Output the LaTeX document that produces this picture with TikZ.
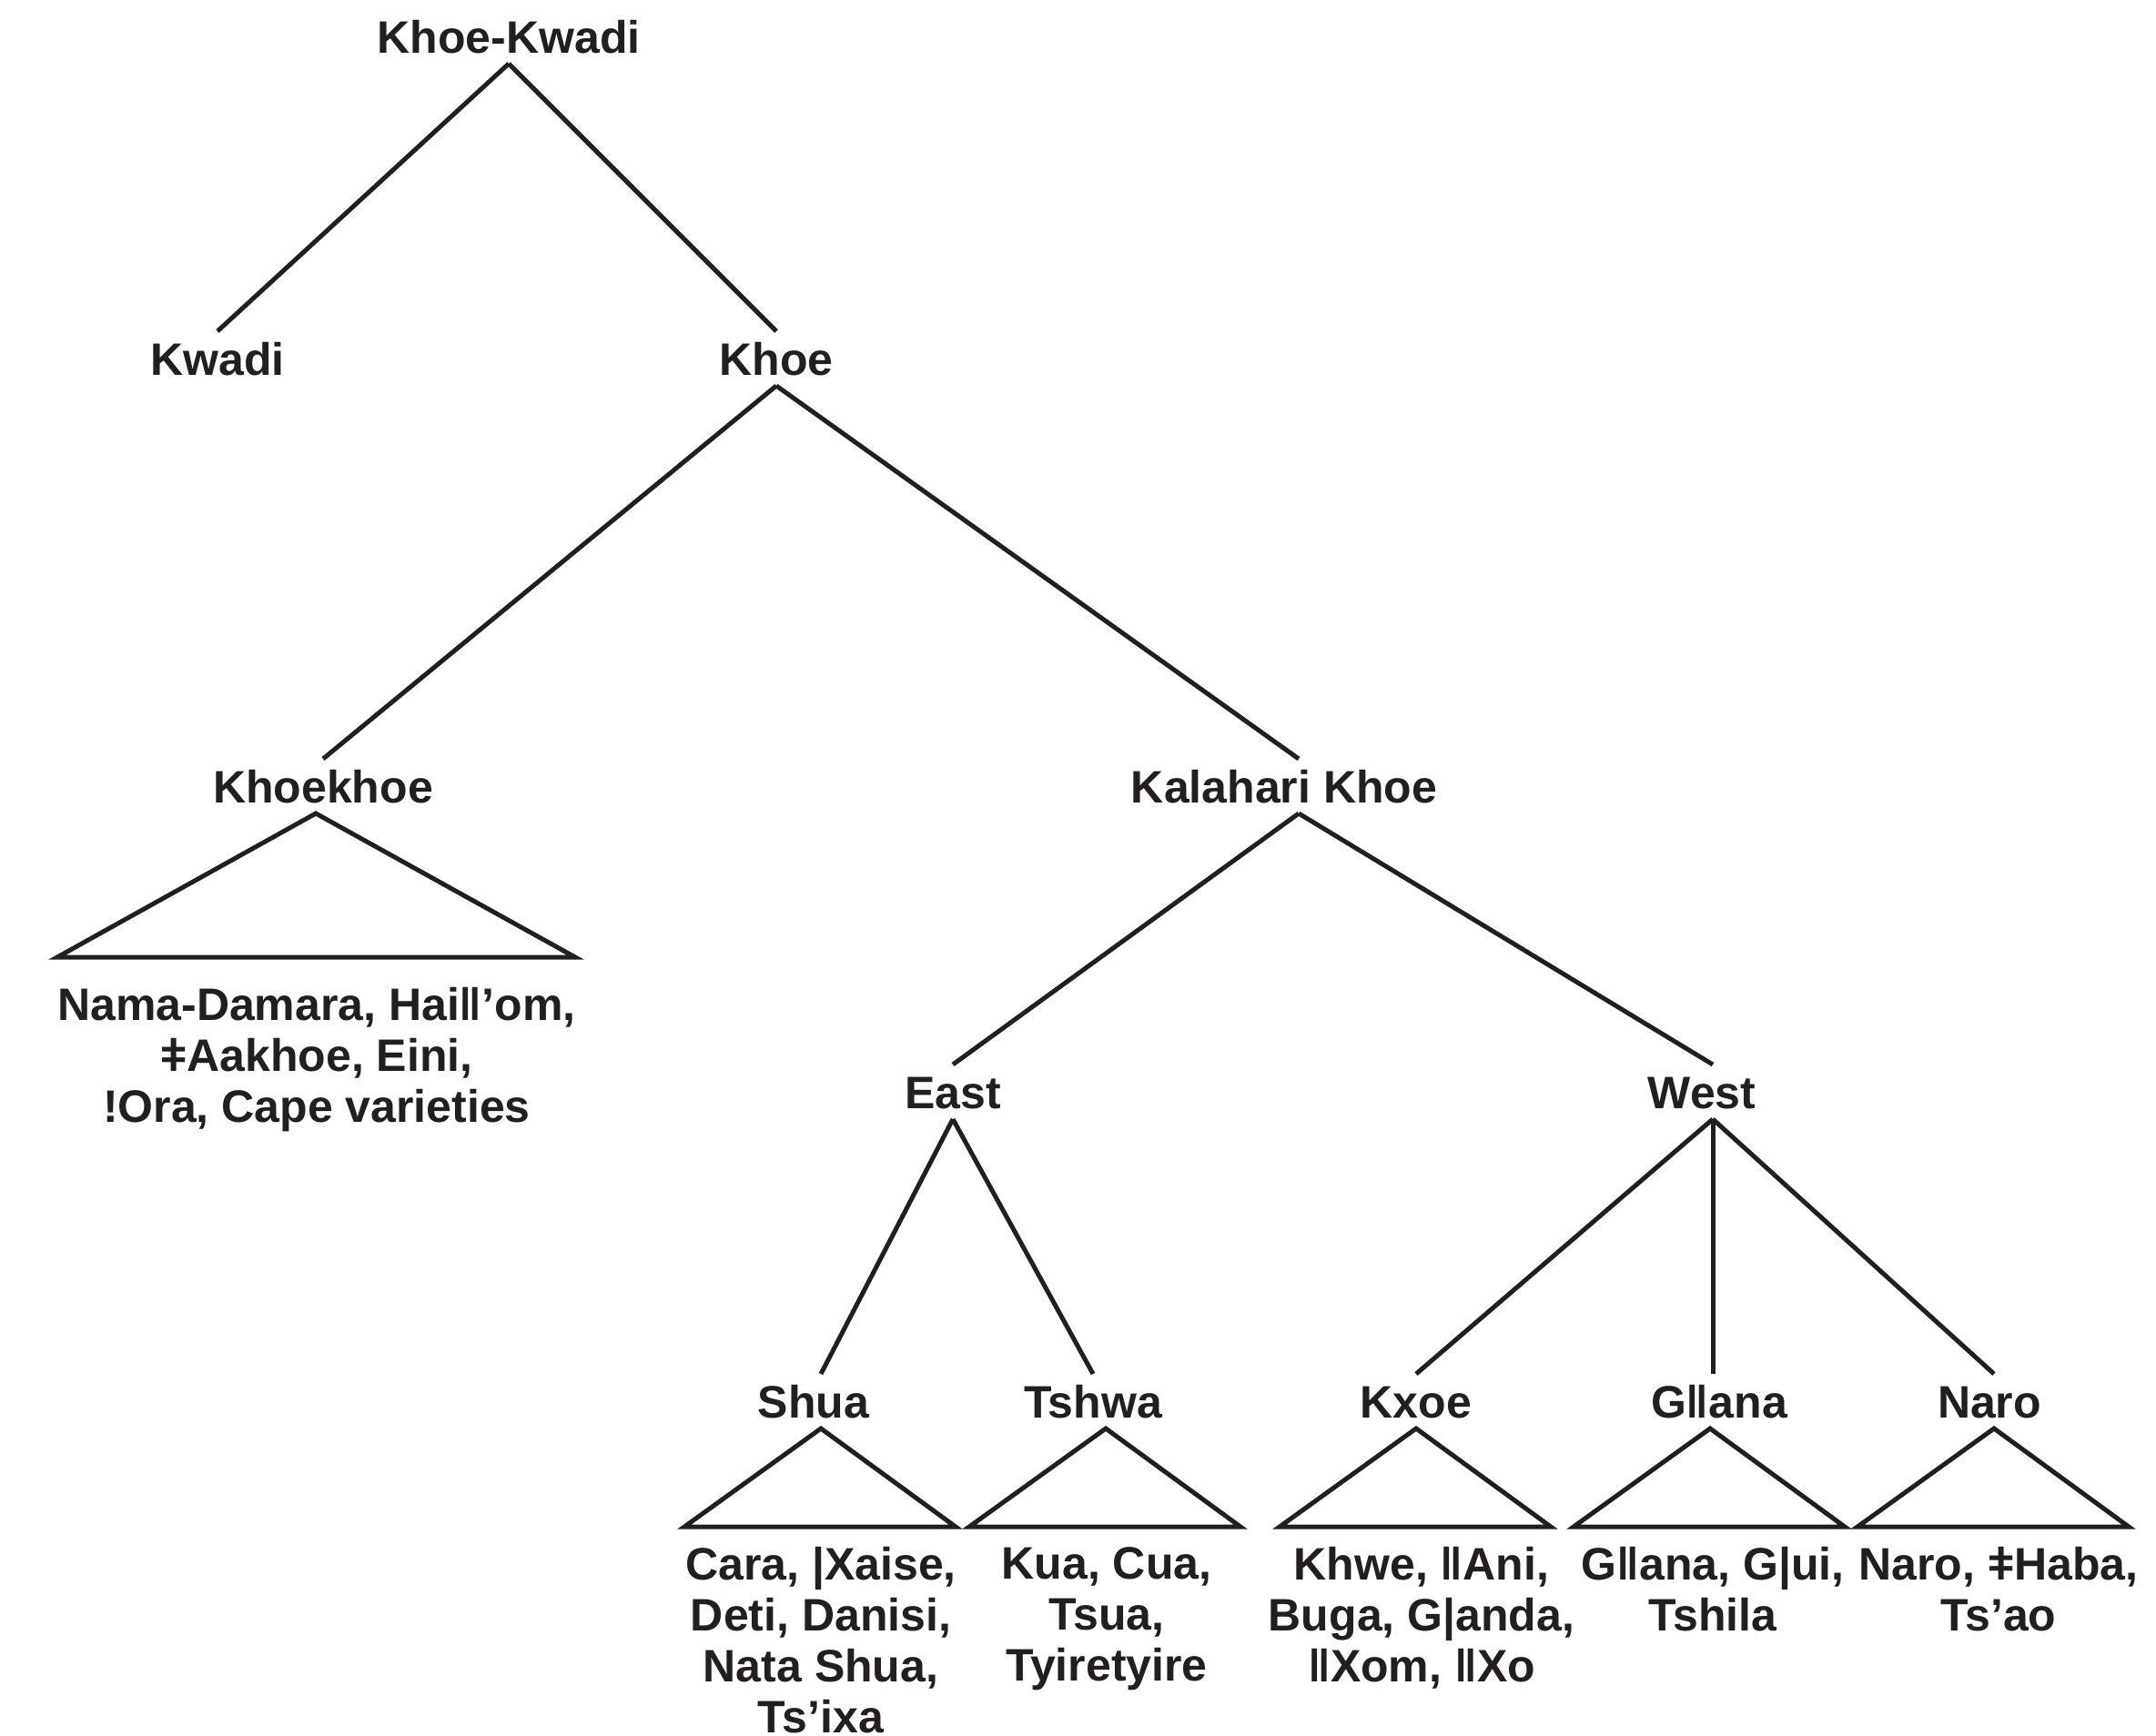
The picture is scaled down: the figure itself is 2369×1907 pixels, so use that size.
\documentclass[tikz,border=0pt]{standalone}
\usepackage{fontspec}
\setmainfont{Liberation Sans}
\usepackage{tikz}
\definecolor{ink}{HTML}{231F20}
\tikzset{
  lang/.style    = {font=\bfseries\fontsize{25}{28}\selectfont, text=ink,
                    inner sep=0pt, outer sep=6pt,
                    text height=18pt, text depth=0pt},
  members/.style = {font=\bfseries\fontsize{25}{28}\selectfont, text=ink,
                    inner sep=0pt, align=center, anchor=north},
  branch/.style  = {draw=ink, line width=2.5pt},
}

\begin{document}
\begin{tikzpicture}[x=0.5pt, y=-0.5pt]
  \useasboundingbox (0,0) rectangle (2369,1907);

  % Upper levels
  \node[lang] (kk)       at (559,40)   {Khoe-Kwadi};
  \node[lang] (kwadi)    at (239,394)  {Kwadi};
  \node[lang] (khoe)     at (853,394)  {Khoe};
  \node[lang] (khoekhoe) at (355,864)  {Khoekhoe};
  \node[lang] (kal)      at (1411,864) {Kalahari Khoe};
  \node[lang] (east)     at (1047,1200) {East};
  \node[lang] (west)     at (1870,1200) {West};

  % Lowest level
  \node[lang] (shua)  at (894,1540)  {Shua};
  \node[lang] (tshwa) at (1201,1540) {Tshwa};
  \node[lang] (kxoe)  at (1556,1540) {Kxoe};
  \node[lang] (gana)  at (1889,1540) {Gǁana};
  \node[lang] (naro)  at (2186,1540) {Naro};

  % Member lists
  \node[members] (khoekhoeL) at (348,1085)  {Nama-Damara, Haiǁ’om,\\ǂAakhoe, Eini,\\!Ora, Cape varieties};
  \node[members] (shuaL)     at (902,1700)  {Cara, |Xaise,\\Deti, Danisi,\\Nata Shua,\\Ts’ixa};
  \node[members] (tshwaL)    at (1216,1700) {Kua, Cua,\\Tsua,\\Tyiretyire};
  \node[members] (kxoeL)     at (1562,1700) {Khwe, ǁAni,\\Buga, G|anda,\\ǁXom, ǁXo};
  \node[members] (ganaL)     at (1882,1700) {Gǁana, G|ui,\\Tshila};
  \node[members] (naroL)     at (2196,1700) {Naro, ǂHaba,\\Ts’ao};

  % Branches
  \draw[branch] (kk.south) -- (kwadi.north);
  \draw[branch] (kk.south) -- (khoe.north);
  \draw[branch] (khoe.south) -- (khoekhoe.north);
  \draw[branch] (khoe.south) -- ([xshift=8pt]kal.north);
  \draw[branch] ([xshift=8pt]kal.south) -- (east.north);
  \draw[branch] ([xshift=8pt]kal.south) -- ([xshift=6pt]west.north);
  \draw[branch] (east.south) -- ([xshift=4pt]shua.north);
  \draw[branch] (east.south) -- (tshwa.north);
  \draw[branch] ([xshift=6pt]west.south) -- (kxoe.north);
  \draw[branch] ([xshift=6pt]west.south) -- ([xshift=-3.5pt]gana.north);
  \draw[branch] ([xshift=6pt]west.south) -- ([xshift=2.5pt]naro.north);

  % Triangles over the member lists
  \draw[branch] ([xshift=-4pt]khoekhoe.south) -- ++(-284,158) -- ++(569,0) -- cycle;
  \draw[branch] ([xshift=4pt]shua.south)  -- ++(-150,108) -- ++(298,0) -- cycle;
  \draw[branch] ([xshift=7pt]tshwa.south) -- ++(-150,108) -- ++(298,0) -- cycle;
  \draw[branch] (kxoe.south)              -- ++(-150,108) -- ++(298,0) -- cycle;
  \draw[branch] ([xshift=-5pt]gana.south) -- ++(-150,108) -- ++(298,0) -- cycle;
  \draw[branch] ([xshift=2.5pt]naro.south) -- ++(-150,108) -- ++(298,0) -- cycle;
\end{tikzpicture}
\end{document}
